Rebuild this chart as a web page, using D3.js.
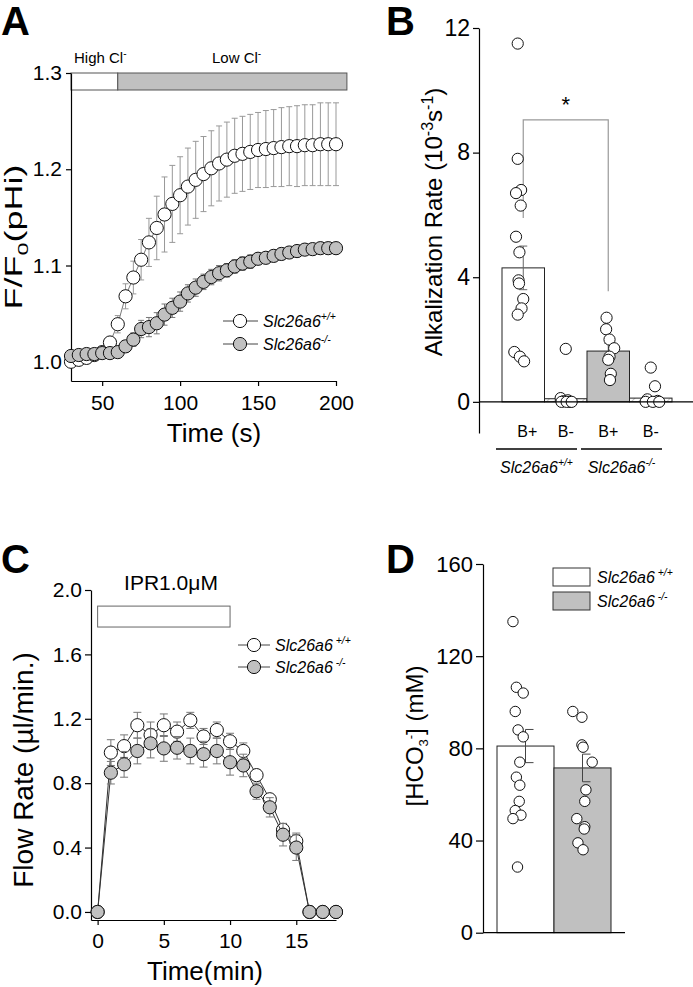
<!DOCTYPE html>
<html><head><meta charset="utf-8">
<script src="https://cdn.jsdelivr.net/npm/d3@7"></script>
<style>
body{margin:0;background:#fff}
svg{display:block}
text{font-family:'Liberation Sans',Arial,Helvetica,sans-serif;fill:#000}
</style>
</head><body>
<svg id="fig" width="693" height="987"></svg>
<script>
// ---------------- Panel A data ----------------
const timeA = [30,35,40,45,50,55,60,65,70,75,80,85,90,95,100,105,110,115,120,125,130,135,140,145,150,155,160,165,170,175,180,185,190,195,200];
const wtA   = [1.000,1.002,1.004,1.007,1.010,1.020,1.039,1.068,1.0875,1.106,1.124,1.139,1.153,1.164,1.173,1.182,1.189,1.195,1.201,1.206,1.210,1.214,1.216,1.218,1.220,1.221,1.222,1.223,1.224,1.224,1.225,1.225,1.226,1.226,1.226];
const wtSemA= [0.003,0.003,0.003,0.004,0.004,0.006,0.009,0.013,0.017,0.021,0.025,0.033,0.039,0.040,0.040,0.040,0.040,0.039,0.039,0.039,0.039,0.039,0.039,0.039,0.039,0.040,0.040,0.041,0.041,0.042,0.042,0.042,0.043,0.043,0.043];
const koA   = [1.006,1.007,1.008,1.008,1.009,1.009,1.010,1.016,1.023,1.034,1.036,1.040,1.049,1.056,1.0625,1.071,1.077,1.083,1.088,1.092,1.095,1.099,1.102,1.104,1.107,1.108,1.110,1.112,1.1135,1.115,1.1165,1.117,1.118,1.118,1.118];
const koSemA= [0.003,0.003,0.004,0.004,0.005,0.005,0.005,0.006,0.007,0.009,0.010,0.011,0.011,0.010,0.010,0.009,0.009,0.008,0.008,0.008,0.007,0.007,0.007,0.007,0.006,0.006,0.006,0.006,0.006,0.006,0.006,0.006,0.006,0.006,0.006];
const ticksAx = [50,100,150,200];
const ticksAy = [1.0,1.1,1.2,1.3];
const clPeriods = [{label:"High Cl", start:30, end:60, fill:"#ffffff"},{label:"Low Cl", start:60, end:207, fill:"#c0c0c0"}];

// ---------------- Panel B data ----------------
const catsB   = ["B+","B-","B+","B-"];
const groupsB = ["+/+","-/-"];
const barB    = [4.3, 0.1, 1.63, 0.12];
const semB    = [0.7, 0, 0.25, 0];
const ptsB = [
  [11.5,7.8,6.8,6.7,6.3,5.3,4.8,3.9,3.8,3.3,3.0,2.8,1.6,1.45,1.3],
  [1.7,0.12,0.05,0.02,0,0,0,0],
  [2.7,2.33,2.0,1.72,1.45,1.35,0.9,0.7],
  [1.1,0.5,0.08,0.03,0,0,0]
];
const jitB = [
  [-0.13,-0.13,-0.05,-0.17,-0.06,-0.17,-0.09,-0.11,-0.1,0.0,-0.04,-0.13,-0.21,-0.08,0.02],
  [0.0,-0.12,0.05,-0.05,0.1,-0.1,0.02,0.14],
  [-0.04,-0.05,0.03,0.14,0.03,0.0,0.06,0.04],
  [0.0,0.1,-0.08,0.16,-0.12,0.05,0.2]
];
const ticksBy = [0,4,8,12];
const sigB = {from:0, to:2, top:9.05, leftEnd:5.9, rightEnd:3.55, label:"*"};

// ---------------- Panel C data ----------------
const timeC  = [0,1,2,3,4,5,6,7,8,9,10,11,12,13,14,15,16,17,18];
const wtC    = [0,0.99,1.03,1.16,1.10,1.16,1.12,1.19,1.09,1.13,1.06,1.00,0.85,0.70,0.51,0.44,0,0,0];
const wtSemC = [0,0.08,0.07,0.08,0.08,0.07,0.06,0.05,0.05,0.05,0.05,0.05,0.03,0.03,0.04,0.05,0,0,0];
const koC    = [0,0.865,0.917,1.0,1.047,1.016,1.02,1.0,0.98,1.0,0.93,0.91,0.75,0.65,0.48,0.40,0,0,0];
const koSemC = [0,0.07,0.08,0.08,0.09,0.08,0.07,0.08,0.08,0.08,0.08,0.07,0.05,0.06,0.07,0.08,0,0,0];
const ticksCx = [0,5,10,15];
const ticksCy = [0.0,0.4,0.8,1.2,1.6,2.0];
const iprC = {label:"IPR1.0\u03BCM", start:0, end:10, top:1.9, bottom:1.77};

// ---------------- Panel D data ----------------
const groupsD = ["+/+","-/-"];
const barD    = [81, 71.5];
const semD    = [7.2, 6.0];
const ptsD = [
  [135,106.5,104,96,88,85,74,67.5,64,57,53,51,49.5,28.5],
  [96,93.5,81.5,80.5,74,62,57,49.5,46,45,39,36]
];
const jitD = [
  [-0.22,-0.16,-0.04,-0.18,-0.13,-0.04,-0.1,-0.16,-0.1,-0.11,-0.18,-0.08,-0.22,-0.14],
  [-0.17,-0.01,-0.01,0.01,0.17,0.06,0.04,-0.1,0.04,0.03,-0.08,0.01]
];
const ticksDy = [0,40,80,120,160];

// ---------------- helpers ----------------
const svg = d3.select("#fig");
const GREY = "#c0c0c0";
const FONT = "'Liberation Sans',Arial,Helvetica,sans-serif";

function styleAxis(g, size){
  g.attr("font-family", FONT).attr("font-size", size);
  g.selectAll("path.domain").attr("stroke","#000").attr("stroke-width",1.2);
  g.selectAll(".tick line").attr("stroke","#000").attr("stroke-width",1.2);
  g.selectAll(".tick text").attr("fill","#000");
}
function slcText(g, x, y, sup, size, anchor){
  const t = g.append("text").attr("x",x).attr("y",y).attr("font-size",size)
    .attr("font-style","italic").attr("text-anchor",anchor||"start");
  t.append("tspan").text("Slc26a6");
  t.append("tspan").attr("dy",-size*0.42).attr("font-size",size*0.65).text(sup);
  return t;
}
function panelLetter(x,y,l){
  svg.append("text").attr("x",x).attr("y",y).attr("font-size",40).attr("font-weight","bold").text(l);
}

// ================= PANEL A =================
{
  const g = svg.append("g");
  const x = d3.scaleLinear().domain([30,200]).range([71,336]);
  const y = d3.scaleLinear().domain([0.98,1.3]).range([381,73]);
  panelLetter(1,35,"A");

  clPeriods.forEach(p=>{
    g.append("rect").attr("x",x(p.start)).attr("y",y(1.3)).attr("width",x(p.end)-x(p.start)).attr("height",17)
      .attr("fill",p.fill).attr("stroke","#555").attr("stroke-width",1);
  });
  [[clPeriods[0],74],[clPeriods[1],212]].forEach(([p,tx])=>{
    const t = g.append("text").attr("x",tx).attr("y",63).attr("font-size",15);
    t.append("tspan").text(p.label);
    t.append("tspan").attr("dy",-6).attr("font-size",10).text("-");
  });

  const ax = g.append("g").attr("transform","translate(0,381)")
    .call(d3.axisBottom(x).tickValues(ticksAx).tickSize(5).tickSizeOuter(0).tickPadding(9));
  styleAxis(ax,21);
  const ay = g.append("g").attr("transform","translate(71,0)")
    .call(d3.axisLeft(y).tickValues(ticksAy).tickFormat(d3.format(".1f")).tickSize(5).tickSizeOuter(0).tickPadding(4));
  styleAxis(ay,21);

  function series(vals, sems, fill, errColor){
    const data = timeA.map((t,i)=>({t, v:vals[i], s:sems[i]}));
    g.append("path").datum(data).attr("fill","none").attr("stroke","#555").attr("stroke-width",0.8)
      .attr("d", d3.line().x(d=>x(d.t)).y(d=>y(d.v)));
    const e = g.append("g").attr("stroke",errColor).attr("stroke-width",1);
    data.forEach(d=>{
      e.append("line").attr("x1",x(d.t)).attr("x2",x(d.t)).attr("y1",y(d.v-d.s)).attr("y2",y(d.v+d.s));
      e.append("line").attr("x1",x(d.t)-3).attr("x2",x(d.t)+3).attr("y1",y(d.v+d.s)).attr("y2",y(d.v+d.s));
      e.append("line").attr("x1",x(d.t)-3).attr("x2",x(d.t)+3).attr("y1",y(d.v-d.s)).attr("y2",y(d.v-d.s));
    });
    g.append("g").selectAll("circle").data(data).join("circle")
      .attr("cx",d=>x(d.t)).attr("cy",d=>y(d.v)).attr("r",6.6)
      .attr("fill",fill).attr("stroke","#111").attr("stroke-width",1);
  }
  series(wtA, wtSemA, "#fff", "#999");
  series(koA, koSemA, GREY, "#777");

  [["+/+","#fff",321],["-/-",GREY,344]].forEach(([s,f,ly])=>{
    g.append("line").attr("x1",223).attr("x2",258).attr("y1",ly).attr("y2",ly).attr("stroke","#444");
    g.append("circle").attr("cx",240).attr("cy",ly).attr("r",6.6).attr("fill",f).attr("stroke","#111");
    slcText(g,263,ly+6,s,16);
  });

  g.append("text").attr("x",214).attr("y",442).attr("font-size",26).attr("text-anchor","middle").text("Time (s)");
  const yl = g.append("text").attr("transform","translate(22,237) rotate(-90)").attr("font-size",23)
    .attr("text-anchor","middle").attr("textLength",145).attr("lengthAdjust","spacingAndGlyphs");
  yl.append("tspan").text("F/F");
  yl.append("tspan").attr("dy",6).attr("font-size",15).text("0");
  yl.append("tspan").attr("dy",-6).text("(pHi)");
}

// ================= PANEL B =================
{
  const g = svg.append("g");
  const y = d3.scaleLinear().domain([-1,12]).range([433,28]);
  const x = d3.scaleBand().domain(d3.range(catsB.length)).range([502,672]);
  const bw = x.bandwidth();
  panelLetter(386,35,"B");

  const defs = svg.append("defs");
  const pat = defs.append("pattern").attr("id","hatch").attr("patternUnits","userSpaceOnUse")
    .attr("width",5).attr("height",5).attr("patternTransform","rotate(45)");
  pat.append("rect").attr("width",5).attr("height",5).attr("fill","#fff");
  pat.append("line").attr("x1",0).attr("x2",0).attr("y1",0).attr("y2",5).attr("stroke","#999").attr("stroke-width",1.2);

  const cx0 = x(sigB.from)+bw/2, cx2 = x(sigB.to)+bw/2;
  g.append("path").attr("fill","none").attr("stroke","#999").attr("stroke-width",1.2)
    .attr("d",`M${cx0},${y(sigB.leftEnd)}V${y(sigB.top)}H${cx2}V${y(sigB.rightEnd)}`);
  g.append("text").attr("x",(cx0+cx2)/2).attr("y",y(sigB.top)-8).attr("text-anchor","middle").attr("font-size",22).text(sigB.label);

  barB.forEach((v,i)=>{
    const fill = (i===0)?"#fff":(i===2?GREY:"url(#hatch)");
    g.append("rect").attr("x",x(i)).attr("y",y(v)).attr("width",bw).attr("height",y(0)-y(v))
      .attr("fill",fill).attr("stroke","#222").attr("stroke-width",1);
  });
  semB.forEach((s,i)=>{
    if(!s) return;
    const c = x(i)+bw/2, v = barB[i];
    g.append("path").attr("fill","none").attr("stroke","#666").attr("stroke-width",1)
      .attr("d",`M${c},${y(v-s)}V${y(v+s)}M${c-4},${y(v+s)}H${c+4}M${c-4},${y(v-s)}H${c+4}`);
  });
  ptsB.forEach((arr,i)=>{
    g.append("g").selectAll("circle").data(arr).join("circle")
      .attr("cx",(d,k)=>x(i)+bw/2+jitB[i][k]*bw).attr("cy",d=>y(d)).attr("r",5.6)
      .attr("fill","#fff").attr("stroke","#111").attr("stroke-width",1);
  });

  g.append("line").attr("x1",479).attr("x2",693).attr("y1",y(0)).attr("y2",y(0)).attr("stroke","#000").attr("stroke-width",1.2);
  const ay = g.append("g").attr("transform","translate(479,0)")
    .call(d3.axisLeft(y).tickValues(ticksBy).tickSize(6).tickSizeOuter(0).tickPadding(3));
  styleAxis(ay,23);

  catsB.forEach((c,i)=>{
    g.append("text").attr("x",x(i)+bw/2+(i===0?4:0)).attr("y",437).attr("text-anchor","middle").attr("font-size",16).text(c);
  });
  groupsB.forEach((s,j)=>{
    const l = x(2*j)-6, r = x(2*j+1)+bw-10;
    g.append("line").attr("x1",l).attr("x2",r).attr("y1",449).attr("y2",449).attr("stroke","#000").attr("stroke-width",1.5);
    slcText(g,(l+r)/2,473,s,16,"middle");
  });

  const yl = g.append("text").attr("transform","translate(442,222) rotate(-90)").attr("font-size",24).attr("text-anchor","middle");
  yl.append("tspan").text("Alkalization Rate (10");
  yl.append("tspan").attr("dy",-9).attr("font-size",16).text("-3");
  yl.append("tspan").attr("dy",9).text("s");
  yl.append("tspan").attr("dy",-9).attr("font-size",16).text("-1");
  yl.append("tspan").attr("dy",9).text(")");
}

// ================= PANEL C =================
{
  const g = svg.append("g");
  const x = d3.scaleLinear().domain([-0.5,18]).range([91,336]);
  const y = d3.scaleLinear().domain([-0.05,2.0]).range([920,590]);
  panelLetter(1,573,"C");

  g.append("rect").attr("x",x(iprC.start)).attr("y",y(iprC.top)).attr("width",x(iprC.end)-x(iprC.start))
    .attr("height",y(iprC.bottom)-y(iprC.top)).attr("fill","#fff").attr("stroke","#666").attr("stroke-width",1);
  g.append("text").attr("x",171).attr("y",590).attr("text-anchor","middle").attr("font-size",21).text(iprC.label);

  const ax = g.append("g").attr("transform","translate(0,920)")
    .call(d3.axisBottom(x).tickValues(ticksCx).tickSize(5).tickSizeOuter(0).tickPadding(8));
  styleAxis(ax,21);
  const ay = g.append("g").attr("transform","translate(91,0)")
    .call(d3.axisLeft(y).tickValues(ticksCy).tickFormat(d3.format(".1f")).tickSize(6).tickSizeOuter(0).tickPadding(3));
  styleAxis(ay,21);

  function series(vals, sems, fill){
    const data = timeC.map((t,i)=>({t, v:vals[i], s:sems[i]}));
    g.append("path").datum(data).attr("fill","none").attr("stroke","#333").attr("stroke-width",1)
      .attr("d", d3.line().x(d=>x(d.t)).y(d=>y(d.v)));
    const e = g.append("g").attr("stroke","#777").attr("stroke-width",1);
    data.filter(d=>d.s>0).forEach(d=>{
      e.append("line").attr("x1",x(d.t)).attr("x2",x(d.t)).attr("y1",y(d.v-d.s)).attr("y2",y(d.v+d.s));
      e.append("line").attr("x1",x(d.t)-4).attr("x2",x(d.t)+4).attr("y1",y(d.v+d.s)).attr("y2",y(d.v+d.s));
      e.append("line").attr("x1",x(d.t)-4).attr("x2",x(d.t)+4).attr("y1",y(d.v-d.s)).attr("y2",y(d.v-d.s));
    });
    g.append("g").selectAll("circle").data(data).join("circle")
      .attr("cx",d=>x(d.t)).attr("cy",d=>y(d.v)).attr("r",6.6)
      .attr("fill",fill).attr("stroke","#111").attr("stroke-width",1);
  }
  series(wtC, wtSemC, "#fff");
  series(koC, koSemC, GREY);

  [["+/+","#fff",645],["-/-",GREY,667]].forEach(([s,f,ly])=>{
    g.append("line").attr("x1",238).attr("x2",270).attr("y1",ly).attr("y2",ly).attr("stroke","#444");
    g.append("circle").attr("cx",254).attr("cy",ly).attr("r",6.6).attr("fill",f).attr("stroke","#111");
    slcText(g,275,ly+6,"\u00A0"+s,16);
  });

  g.append("text").attr("x",205).attr("y",980).attr("text-anchor","middle").attr("font-size",26).text("Time(min)");
  g.append("text").attr("transform","translate(33,770) rotate(-90)").attr("font-size",28).attr("text-anchor","middle")
    .text("Flow Rate (\u00B5l/min.)");
}

// ================= PANEL D =================
{
  const g = svg.append("g");
  const y = d3.scaleLinear().domain([0,160]).range([932.7,564]);
  const x = d3.scaleBand().domain(d3.range(groupsD.length)).range([497,611]);
  const bw = x.bandwidth();
  panelLetter(386,573,"D");

  barD.forEach((v,i)=>{
    g.append("rect").attr("x",x(i)).attr("y",y(v)).attr("width",bw).attr("height",y(0)-y(v))
      .attr("fill",i===0?"#fff":GREY).attr("stroke","#222").attr("stroke-width",1);
  });
  semD.forEach((s,i)=>{
    const c = x(i)+bw/2, v = barD[i];
    g.append("path").attr("fill","none").attr("stroke","#444").attr("stroke-width",1)
      .attr("d",`M${c},${y(v-s)}V${y(v+s)}M${c},${y(v+s)}H${c+8}M${c},${y(v-s)}H${c+8}`);
  });
  ptsD.forEach((arr,i)=>{
    g.append("g").selectAll("circle").data(arr).join("circle")
      .attr("cx",(d,k)=>x(i)+bw/2+jitD[i][k]*bw).attr("cy",d=>y(d)).attr("r",5.2)
      .attr("fill","#fff").attr("stroke","#111").attr("stroke-width",1);
  });

  g.append("line").attr("x1",483).attr("x2",625).attr("y1",y(0)).attr("y2",y(0)).attr("stroke","#000").attr("stroke-width",1.2);
  const ay = g.append("g").attr("transform","translate(483,0)")
    .call(d3.axisLeft(y).tickValues(ticksDy).tickSize(7).tickSizeOuter(0).tickPadding(3));
  styleAxis(ay,22);

  [["+/+","#fff",568],["-/-",GREY,592]].forEach(([s,f,ly])=>{
    g.append("rect").attr("x",553).attr("y",ly).attr("width",37).attr("height",18).attr("fill",f).attr("stroke","#333");
    slcText(g,597,ly+15,"\u00A0"+s,16);
  });

  const yl = g.append("text").attr("transform","translate(423,736) rotate(-90)").attr("font-size",24).attr("text-anchor","middle");
  yl.append("tspan").text("[HCO");
  yl.append("tspan").attr("dy",5).attr("font-size",13).text("3");
  yl.append("tspan").attr("dy",-13).attr("font-size",13).text("-");
  yl.append("tspan").attr("dy",8).text("] (mM)");
}
</script>
</body></html>
